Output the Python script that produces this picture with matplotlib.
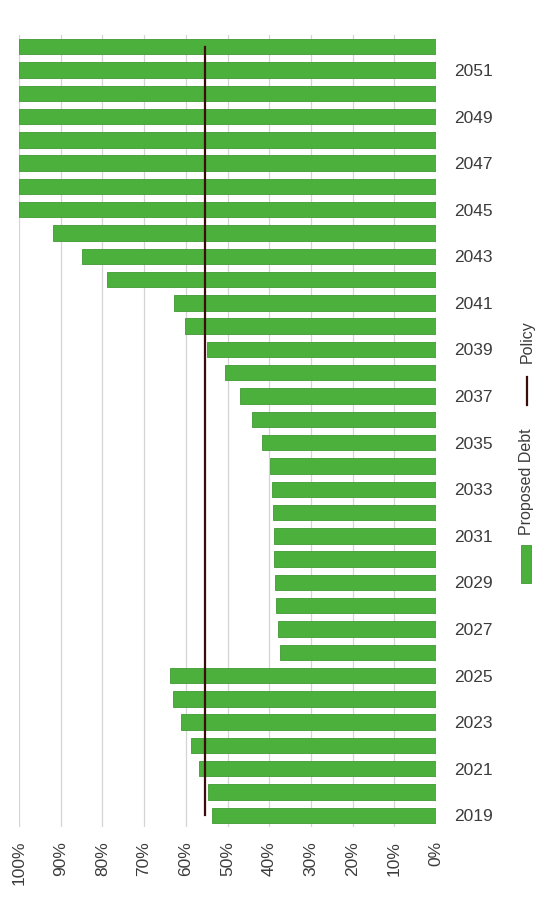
import matplotlib
matplotlib.use('Agg')
import matplotlib.pyplot as plt
from matplotlib.patches import Rectangle
from matplotlib.lines import Line2D

plt.rcParams['font.family'] = ['Liberation Sans', 'DejaVu Sans']

years = list(range(2019, 2053))
debt = [53.6, 54.7, 56.9, 58.8, 61.1, 63.1, 63.7,
        37.4, 38.0, 38.4, 38.6, 38.8, 38.9, 39.0, 39.4, 39.8,
        41.8, 44.1, 46.9, 50.7, 54.9, 60.1, 62.9,
        78.8, 84.9, 91.9,
        100, 100, 100, 100, 100, 100, 100, 100]
policy = [55.3] * len(years)
pct_ticks = list(range(0, 101, 10))

green = '#4cb03c'
policy_col = '#3a0c0c'
txt = '#3c3c3c'

fig = plt.figure(figsize=(5.4, 9.01), dpi=100)
ax = fig.add_axes([19/540, 1-827/901, (436-19)/540, (827-35)/901])

idx = list(range(len(years)))
ax.barh(idx, debt, height=0.66, color=green, edgecolor='#3f9a31', linewidth=0.6, zorder=2)
ax.plot(policy, idx, '-', color=policy_col, lw=1.6, zorder=3)

ax.set_xlim(100, 0)
ax.set_ylim(-0.5, len(years) - 0.5)
ax.set_xticks(pct_ticks)
ax.set_xticklabels(['{}%'.format(p) for p in pct_ticks], rotation=90, fontsize=12.5, color=txt)
ax.yaxis.tick_right()
ax.set_yticks(idx[::2])
ax.set_yticklabels([str(y) for y in years[::2]], fontsize=12.5, color=txt)
ax.tick_params(axis='both', length=0)
ax.tick_params(axis='x', pad=10)
ax.tick_params(axis='y', pad=13)
ax.grid(axis='x', color='#d4d4d4', lw=0.9, zorder=0)
for s in ax.spines.values():
	s.set_visible(False)

# legend drawn rotated, like the rest of the picture
W, H = 540.0, 901.0
fig.patches.append(Rectangle((521/W, 1-583/H), 10/W, 38/H, transform=fig.transFigure,
	facecolor=green, edgecolor='#3f9a31', lw=0.6))
fig.text(527/W, 1-428/H, 'Proposed Debt', rotation=90, ha='center', va='top', fontsize=11.5, color=txt)
fig.lines.append(Line2D([527/W, 527/W], [1-405/H, 1-377/H], transform=fig.transFigure,
	color=policy_col, lw=1.6))
fig.text(527/W, 1-320/H, 'Policy', rotation=90, ha='center', va='top', fontsize=11.5, color=txt)

fig.savefig('out.png', dpi=100)
